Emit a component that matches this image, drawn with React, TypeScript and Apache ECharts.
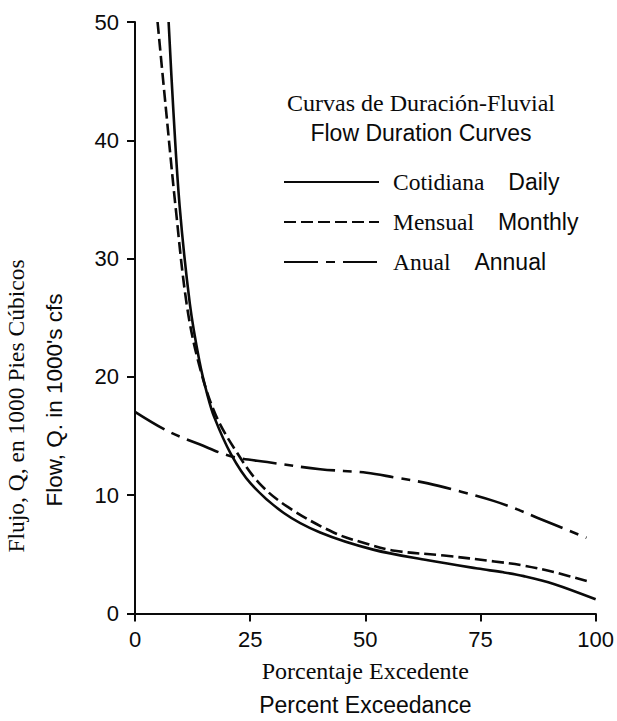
import React, { useEffect, useRef } from "react";
import * as echarts from "echarts";

const dailyX = [7.3, 8.3, 9.7, 11.9, 14, 15.7, 17.2, 20.8, 25.1, 32.3, 40.2, 51.7, 63.6, 74.4, 80, 84.4, 90.9, 100];
const dailyY = [50, 42.7, 34.4, 26.2, 21.3, 18.5, 16.6, 13.5, 11.0, 8.5, 6.85, 5.4, 4.5, 3.8, 3.48, 3.16, 2.5, 1.2];

const monthlyX = [4.9, 6.7, 8.8, 11.2, 13.8, 17.5, 22.3, 27, 33, 43.1, 50.3, 56.4, 67.1, 78, 84.4, 90.9, 99];
const monthlyY = [50, 42.7, 34.4, 26.2, 21.2, 16.8, 13.5, 11.0, 9.05, 6.85, 5.9, 5.3, 4.9, 4.4, 4.05, 3.5, 2.65];

const annualX = [0, 7.2, 14, 20.8, 28.7, 40.2, 50.3, 56.4, 63.6, 70.8, 78, 83, 87.3, 98];
const annualY = [17.05, 15.4, 14.3, 13.3, 12.8, 12.2, 11.9, 11.5, 11.0, 10.3, 9.5, 8.8, 8.1, 6.4];

const seriesNames = ["Cotidiana|Daily", "Mensual|Monthly", "Anual|Annual"];

const SERIF = "Liberation Serif";
const SANS = "Liberation Sans";
const INK = "#0a0a0a";

function pairs(xs: number[], ys: number[]) {
  return xs.map((x, i) => [x, ys[i]]);
}

export default function App() {
  const ref = useRef<HTMLDivElement>(null);
  useEffect(() => {
    if (!ref.current) return;
    const chart = echarts.init(ref.current, null, { renderer: "svg" });
    const lineW = 2.6;
    chart.setOption({
      animation: false,
      backgroundColor: "#fff",
      title: {
        text: "Curvas de Duración-Fluvial",
        subtext: "Flow Duration Curves",
        left: 421,
        top: 89,
        padding: 0,
        itemGap: 3,
        textAlign: "center",
        textStyle: { fontFamily: SERIF, fontSize: 24, fontWeight: "normal", color: INK, lineHeight: 28 },
        subtextStyle: { fontFamily: SANS, fontSize: 23, color: INK, lineHeight: 26 },
      },
      legend: {
        orient: "vertical",
        left: 283,
        top: 170,
        padding: 0,
        itemWidth: 95,
        itemHeight: 14,
        itemGap: 16,
        data: seriesNames,
        selectedMode: false,
        itemStyle: { opacity: 0 },
        formatter: (name: string) => {
          const [a, b] = name.split("|");
          return `{a|${a}}{b|${b}}`;
        },
        textStyle: {
          color: INK,
          rich: {
            a: { fontFamily: SERIF, fontSize: 23.5, color: INK, lineHeight: 26, padding: [0, 0, 0, 9] },
            b: { fontFamily: SANS, fontSize: 23, color: INK, lineHeight: 26, padding: [0, 0, 0, 24] },
          },
        },
      },
      grid: { left: 135, right: 18, top: 22, bottom: 95, containLabel: false },
      xAxis: {
        type: "value",
        min: 0,
        max: 100,
        interval: 25,
        name: "{a|Porcentaje Excedente}\n{b|Percent Exceedance}",
        nameLocation: "middle",
        nameGap: 40,
        nameTextStyle: {
          rich: {
            a: { fontFamily: SERIF, fontSize: 24, color: INK, lineHeight: 34 },
            b: { fontFamily: SANS, fontSize: 23, color: INK, lineHeight: 34 },
          },
        },
        axisLine: { lineStyle: { color: INK, width: 2 } },
        axisTick: { show: true, inside: false, length: 8, lineStyle: { color: INK, width: 2 } },
        axisLabel: { fontFamily: SANS, fontSize: 22, color: INK, margin: 15 },
        splitLine: { show: false },
      },
      yAxis: {
        type: "value",
        min: 0,
        max: 50,
        interval: 10,
        axisLine: { show: true, lineStyle: { color: INK, width: 2 } },
        axisTick: { show: true, inside: false, length: 8, lineStyle: { color: INK, width: 2 } },
        axisLabel: { fontFamily: SANS, fontSize: 22, color: INK, margin: 16 },
        splitLine: { show: false },
      },
      graphic: [
        {
          type: "text",
          x: 16,
          y: 406,
          rotation: Math.PI / 2,
          style: {
            text: "Flujo, Q, en 1000 Pies Cúbicos",
            fontFamily: SERIF,
            fontSize: 23.5,
            fill: INK,
            align: "center",
            verticalAlign: "middle",
          },
        },
        {
          type: "text",
          x: 54,
          y: 400,
          rotation: Math.PI / 2,
          style: {
            text: "Flow, Q. in 1000's cfs",
            fontFamily: SANS,
            fontSize: 22.5,
            fill: INK,
            align: "center",
            verticalAlign: "middle",
          },
        },
      ],
      series: [
        {
          name: seriesNames[0],
          type: "line",
          data: pairs(dailyX, dailyY),
          smooth: 0.35,
          symbol: "none",
          lineStyle: { color: INK, width: lineW, type: "solid" },
          itemStyle: { color: INK },
        },
        {
          name: seriesNames[1],
          type: "line",
          data: pairs(monthlyX, monthlyY),
          smooth: 0.35,
          symbol: "none",
          lineStyle: { color: INK, width: lineW, type: [12, 5] },
          itemStyle: { color: INK },
        },
        {
          name: seriesNames[2],
          type: "line",
          data: pairs(annualX, annualY),
          smooth: 0.35,
          symbol: "none",
          lineStyle: { color: INK, width: lineW, type: [34, 8, 9, 8] },
          itemStyle: { color: INK },
        },
      ],
    });
    return () => chart.dispose();
  }, []);
  return (
    <div
      ref={ref}
      style={{ position: "fixed", left: 0, top: 0, width: 617, height: 721, background: "#fff" }}
    />
  );
}
